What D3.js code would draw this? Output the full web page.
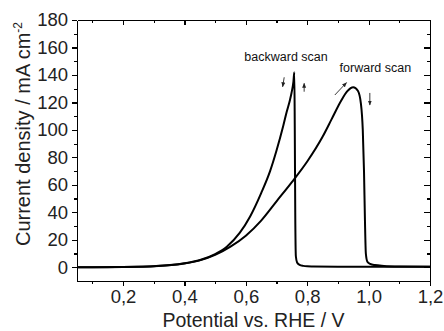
<!DOCTYPE html>
<html>
<head>
<meta charset="utf-8">
<script src="https://cdn.jsdelivr.net/npm/d3@7"></script>
<style>
	html, body { margin: 0; padding: 0; background: #fff; }
	svg { display: block; font-family: 'Liberation Sans', Arial, sans-serif; }
	.frame line, .frame path { stroke: #000; stroke-width: 1.2; shape-rendering: crispEdges; }
	.tick_label { font-size: 18.5px; fill: #222; }
	.axis_title { font-size: 19.5px; fill: #222; }
	.scan_label { font-size: 12.5px; fill: #111; }
	.scan_line { fill: none; stroke: #000; stroke-width: 2; stroke-linejoin: round; }
	.scan_arrow { stroke: #222; stroke-width: 0.9; }
</style>
</head>
<body>
<script>
// Forward scan: potential (V vs RHE), current density (mA cm-2)
const forwardScan = [
	[0.05, 0], [0.10, 0.05], [0.15, 0.1], [0.20, 0.2], [0.25, 0.4], [0.30, 0.8],
	[0.35, 1.5], [0.40, 2.8], [0.45, 5.0], [0.50, 9.0], [0.55, 15], [0.60, 23],
	[0.65, 34], [0.70, 48], [0.75, 62], [0.80, 77], [0.85, 95], [0.88, 108],
	[0.91, 121], [0.93, 128], [0.95, 131], [0.965, 128.5], [0.975, 119], [0.981, 100],
	[0.985, 70], [0.988, 35], [0.991, 10], [0.996, 4], [1.005, 2.5], [1.02, 1.6],
	[1.05, 1.0], [1.10, 0.6], [1.20, 0.4]
];

// Backward scan, from 1.2 V down to 0.05 V
const backwardScan = [
	[1.20, 0.3], [1.10, 0.3], [1.00, 0.3], [0.90, 0.4], [0.82, 0.6], [0.80, 0.7],
	[0.787, 1.0], [0.775, 1.8], [0.767, 3.5], [0.763, 8], [0.761, 40], [0.7595, 100],
	[0.758, 142], [0.755, 135], [0.749, 127], [0.744, 122], [0.733, 113], [0.722, 103],
	[0.70, 85], [0.679, 70], [0.65, 54], [0.614, 37], [0.58, 25], [0.538, 15],
	[0.50, 9.6], [0.451, 5.3], [0.40, 2.9], [0.353, 1.6], [0.30, 0.8], [0.25, 0.4],
	[0.20, 0.2], [0.10, 0.05], [0.05, 0]
];

const xMajorTicks = [0.2, 0.4, 0.6, 0.8, 1.0, 1.2];
const xMinorTicks = [0.1, 0.3, 0.5, 0.7, 0.9, 1.1];
const yMajorTicks = [0, 20, 40, 60, 80, 100, 120, 140, 160, 180];
const yMinorTicks = [10, 30, 50, 70, 90, 110, 130, 150, 170];

const scanLabels = [
	{ text: 'backward scan', x: 0.731, y: 150.5 },
	{ text: 'forward scan', x: 1.022, y: 142.4 }
];
// [x1, y1, x2, y2], head at the second point
const scanArrows = [
	[0.725, 138.3, 0.720, 131.4],
	[0.790, 127.8, 0.790, 133.9],
	[0.890, 125.4, 0.928, 134.4],
	[1.004, 126.9, 1.004, 118.1]
];

const W = 444, H = 331;
const plot = { l: 77, r: 430, t: 20, b: 281 };

const svg = d3.select('body')
	.append('svg')
	.attr('width', W)
	.attr('height', H);

svg.append('defs')
	.append('marker')
	.attr('id', 'arrow_head')
	.attr('viewBox', '0 0 10 10')
	.attr('refX', 9)
	.attr('refY', 5)
	.attr('markerUnits', 'userSpaceOnUse')
	.attr('markerWidth', 5)
	.attr('markerHeight', 5)
	.attr('orient', 'auto')
	.append('path')
	.attr('d', 'M0,1 L10,5 L0,9 Z')
	.style('fill', '#222');

const xScale = d3.scaleLinear()
	.domain([0.05, 1.2])
	.range([plot.l, plot.r]);
const yScale = d3.scaleLinear()
	.domain([-10, 180])
	.range([plot.b, plot.t]);

const fmt = d => d3.format('.1f')(d).replace('.', ',');

const gFrame = svg.append('g').attr('class', 'frame');

// Bottom axis: outward ticks with labels
gFrame.append('g')
	.attr('transform', 'translate(0,' + plot.b + ')')
	.call(d3.axisBottom(xScale).tickValues(xMinorTicks).tickSize(3).tickSizeOuter(0).tickFormat(''));
gFrame.append('g')
	.attr('class', 'x_axis')
	.attr('transform', 'translate(0,' + plot.b + ')')
	.call(d3.axisBottom(xScale).tickValues(xMajorTicks).tickSize(5).tickSizeOuter(0).tickPadding(4).tickFormat(fmt));

// Top axis: inward ticks, no labels
gFrame.append('g')
	.attr('transform', 'translate(0,' + plot.t + ')')
	.call(d3.axisBottom(xScale).tickValues(xMinorTicks).tickSize(3).tickSizeOuter(0).tickFormat(''));
gFrame.append('g')
	.attr('transform', 'translate(0,' + plot.t + ')')
	.call(d3.axisBottom(xScale).tickValues(xMajorTicks).tickSize(5).tickSizeOuter(0).tickFormat(''));

// Left axis: outward ticks with labels
gFrame.append('g')
	.attr('transform', 'translate(' + plot.l + ',0)')
	.call(d3.axisLeft(yScale).tickValues(yMinorTicks).tickSize(3).tickSizeOuter(0).tickFormat(''));
gFrame.append('g')
	.attr('class', 'y_axis')
	.attr('transform', 'translate(' + plot.l + ',0)')
	.call(d3.axisLeft(yScale).tickValues(yMajorTicks).tickSize(5).tickSizeOuter(0).tickPadding(4));

// Right axis: inward ticks, no labels
gFrame.append('g')
	.attr('transform', 'translate(' + plot.r + ',0)')
	.call(d3.axisLeft(yScale).tickValues(yMinorTicks).tickSize(3).tickSizeOuter(0).tickFormat(''));
gFrame.append('g')
	.attr('transform', 'translate(' + plot.r + ',0)')
	.call(d3.axisLeft(yScale).tickValues(yMajorTicks).tickSize(6).tickSizeOuter(0).tickFormat(''));

gFrame.selectAll('.x_axis text, .y_axis text')
	.attr('class', 'tick_label')
	.attr('font-family', null)
	.attr('font-size', null)
	.style('fill', '#222');

// Axis titles
svg.append('text')
	.attr('class', 'axis_title')
	.attr('x', (plot.l + plot.r) / 2)
	.attr('y', 327)
	.attr('text-anchor', 'middle')
	.text('Potential vs. RHE / V');

const yTitle = svg.append('text')
	.attr('class', 'axis_title')
	.attr('transform', 'translate(30,' + 134 + ') rotate(-90)')
	.attr('text-anchor', 'middle')
	.style('font-size', '20px');
yTitle.append('tspan').text('Current density / mA cm');
yTitle.append('tspan')
	.attr('dy', -8)
	.style('font-size', '12px')
	.text('-2');

// Curves
const line = d3.line()
	.x(d => xScale(d[0]))
	.y(d => yScale(d[1]))
	.curve(d3.curveMonotoneX);

svg.selectAll('.scan_line')
	.data([forwardScan, backwardScan]).enter()
	.append('path')
	.attr('class', 'scan_line')
	.attr('d', line);

// Annotations
svg.selectAll('.scan_label')
	.data(scanLabels).enter()
	.append('text')
	.attr('class', 'scan_label')
	.attr('x', d => xScale(d.x))
	.attr('y', d => yScale(d.y))
	.attr('text-anchor', 'middle')
	.text(d => d.text);

svg.selectAll('.scan_arrow')
	.data(scanArrows).enter()
	.append('line')
	.attr('class', 'scan_arrow')
	.attr('x1', d => xScale(d[0]))
	.attr('y1', d => yScale(d[1]))
	.attr('x2', d => xScale(d[2]))
	.attr('y2', d => yScale(d[3]))
	.attr('marker-end', 'url(#arrow_head)');
</script>
</body>
</html>
